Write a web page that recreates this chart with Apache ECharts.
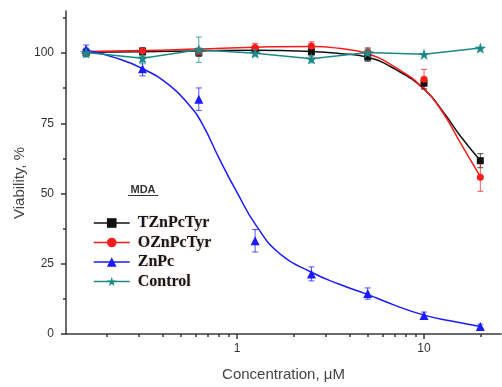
<!DOCTYPE html>
<html><head><meta charset="utf-8">
<script src="https://cdn.jsdelivr.net/npm/echarts@6/dist/echarts.min.js"></script>
<style>html,body{margin:0;padding:0;background:#fff}#c{width:502px;height:387px}</style>
</head><body><div id="c"></div>
<script>
// ---- data ----
const concentrations = [0.156, 0.3125, 0.625, 1.25, 2.5, 5, 10, 20];
const tznpcTyr    = [100.2, 100.5, 100.3, 101.0, 100.5, 98.6, 89.3, 61.7];
const tznpcTyrErr = [1.5, 1.5, 1.5, 1.0, 1.5, 1.5, 2.0, 2.5];
const oznpcTyr    = [100.3, 100.8, 100.6, 102.0, 102.5, 100.4, 90.7, 55.8];
const oznpcTyrErr = [1.0, 1.0, 1.0, 1.5, 1.5, 1.5, 3.5, 5.0];
const znpc        = [101.4, 94.4, 83.6, 33.2, 21.4, 14.4, 6.6, 2.7];
const znpcErr     = [1.5, 2.5, 4.0, 4.0, 2.5, 2.0, 1.2, 0.8];
const control     = [100.2, 98.2, 101.2, 100.0, 98.0, 100.2, 99.6, 101.8];
const controlErr  = [1.5, 2.0, 4.5, 1.0, 1.5, 1.5, 0, 0];

// fitted curves
const fitTZnX  = [0.156, 0.3125, 0.625, 1.25, 2.5, 3.5, 5, 7, 10, 12.7, 15.6, 20];
const fitTZnY  = [100.3, 100.5, 100.8, 101.0, 100.6, 99.9, 98.5, 94.3, 87.2, 79.0, 70.6, 61.8];
const fitOZnX  = [0.156, 0.3125, 0.625, 1.25, 2.5, 3.5, 5, 7, 10, 12.7, 15.6, 20];
const fitOZnY  = [100.6, 100.9, 101.5, 102.1, 102.4, 101.7, 99.8, 95.0, 87.3, 78.5, 68.2, 56.0];
const fitZnPcX = [0.156, 0.22, 0.3125, 0.438, 0.56, 0.65, 0.81, 1.0, 1.27, 1.7, 2.5, 3.5, 4.94, 7, 9.9, 14, 20];
const fitZnPcY = [101.0, 98.5, 94.5, 88.4, 81.2, 75.0, 62.0, 50.4, 38.5, 28.5, 22.0, 17.8, 14.2, 10.2, 6.8, 4.6, 2.7];

const seriesNames = ['TZnPcTyr', 'OZnPcTyr', 'ZnPc', 'Control'];
const xLabelValues = [1, 10];
const xMinorTickValues = [0.2, 0.3, 0.4, 0.5, 0.6, 0.7, 0.8, 0.9, 2, 3, 4, 5, 6, 7, 8, 9, 20];
const yLabelValues = [0, 25, 50, 75, 100];
const yMinorTickValues = [12.5, 37.5, 62.5, 87.5, 112.5];
const xRange = [0.1218, 25.8];
const yRange = [0, 115];

// ---- build ----
const L = Math.log10;
const colors = {black: '#111111', red: '#ff1a1a', blue: '#1a1aff', teal: '#1b8a86'};
const starPath = 'path://M50,0 L61,35 L98,35 L68,57 L79,91 L50,70 L21,91 L32,57 L2,35 L39,35 Z';

function pts(xs, ys) { return xs.map((x, i) => [L(x), ys[i]]); }

function fitSeries(name, xs, ys, color) {
  return {type: 'line', name: name, data: pts(xs, ys), smooth: 0.5,
    symbol: 'none', showSymbol: false, silent: true, z: 2,
    lineStyle: {color: color, width: 1.5}};
}
function errSeries(name, vals, errs, color) {
  const data = [];
  concentrations.forEach((c, i) => { if (errs[i] > 0) data.push([L(c), vals[i] - errs[i], vals[i] + errs[i]]); });
  return {type: 'custom', name: name, data: data, silent: true, z: 3,
    encode: {x: 0, y: [1, 2]},
    renderItem: function (params, api) {
      const x = api.value(0);
      const lo = api.coord([x, api.value(1)]);
      const hi = api.coord([x, api.value(2)]);
      const w = 3;
      const st = {stroke: color, lineWidth: 1, opacity: 0.75};
      return {type: 'group', children: [
        {type: 'line', shape: {x1: lo[0], y1: lo[1], x2: hi[0], y2: hi[1]}, style: st},
        {type: 'line', shape: {x1: lo[0] - w, y1: lo[1], x2: lo[0] + w, y2: lo[1]}, style: st},
        {type: 'line', shape: {x1: hi[0] - w, y1: hi[1], x2: hi[0] + w, y2: hi[1]}, style: st}
      ]};
    }};
}
function pointSeries(name, vals, color, symbol, size, showLine) {
  return {type: 'line', name: name, data: pts(concentrations, vals), symbol: symbol, symbolSize: size,
    symbolKeepAspect: true, showAllSymbol: true, z: 4,
    itemStyle: {color: color, opacity: 1},
    lineStyle: {color: color, width: 1.5, opacity: showLine ? 1 : 0}};
}

const axisLineStyle = {color: '#3a3a3a', width: 1.5};
const chart = echarts.init(document.getElementById('c'), null, {renderer: 'canvas'});
chart.setOption({
  animation: false,
  backgroundColor: '#ffffff',
  grid: {left: 66, right: 1, top: 11, bottom: 52, containLabel: false},
  xAxis: [
    {type: 'value', min: L(xRange[0]), max: L(xRange[1]), position: 'bottom',
      axisLine: {show: true, onZero: false, lineStyle: axisLineStyle},
      axisTick: {show: true, customValues: xLabelValues.map(L), length: 5, lineStyle: axisLineStyle},
      axisLabel: {show: true, customValues: xLabelValues.map(L), margin: 9, fontSize: 12, color: '#333', fontFamily: 'Arial',
        formatter: v => String(Math.round(Math.pow(10, v)))},
      splitLine: {show: false},
      name: 'Concentration, μM', nameLocation: 'middle', nameGap: 33,
      nameTextStyle: {fontSize: 15, color: '#444', fontFamily: 'Arial'}},
    {type: 'value', min: L(xRange[0]), max: L(xRange[1]), position: 'bottom',
      axisLine: {show: false, onZero: false},
      axisTick: {show: true, customValues: xMinorTickValues.map(L), length: 3, lineStyle: axisLineStyle},
      axisLabel: {show: false}, splitLine: {show: false}}
  ],
  yAxis: [
    {type: 'value', min: yRange[0], max: yRange[1], position: 'left',
      axisLine: {show: true, onZero: false, lineStyle: axisLineStyle},
      axisTick: {show: true, customValues: yLabelValues, length: 5, lineStyle: axisLineStyle},
      axisLabel: {show: true, customValues: yLabelValues, margin: 12, fontSize: 12, color: '#333', fontFamily: 'Arial'},
      splitLine: {show: false}},
    {type: 'value', min: yRange[0], max: yRange[1], position: 'left',
      axisLine: {show: false, onZero: false},
      axisTick: {show: true, customValues: yMinorTickValues, length: 3, lineStyle: axisLineStyle},
      axisLabel: {show: false}, splitLine: {show: false}}
  ],
  legend: {
    orient: 'vertical', left: 93, top: 215, padding: 0, itemWidth: 36, itemHeight: 12, itemGap: 3.5,
    textStyle: {fontFamily: 'Liberation Serif, Times New Roman, serif', fontWeight: 'bold', fontSize: 16, lineHeight: 16,
      color: '#15152a', padding: [0, 0, 0, 3], textShadowColor: 'rgba(200,150,40,0.55)', textShadowBlur: 2},
    data: seriesNames.map(n => ({name: n, lineStyle: {opacity: 1, width: 1.5}}))
  },
  graphic: [
    {type: 'text', x: 20, y: 183, rotation: Math.PI / 2,
      style: {text: 'Viability, %', font: '15px Arial', fill: '#444', align: 'center', verticalAlign: 'middle'}},
    {type: 'text', x: 143, y: 190,
      style: {text: 'MDA', font: 'bold 11px Arial', fill: '#333', align: 'center', verticalAlign: 'middle'}},
    {type: 'line', shape: {x1: 128, y1: 195.5, x2: 158, y2: 195.5}, style: {stroke: '#333', lineWidth: 1}}
  ],
  series: [
    fitSeries('fitTZn', fitTZnX, fitTZnY, colors.black),
    fitSeries('fitOZn', fitOZnX, fitOZnY, colors.red),
    fitSeries('fitZnPc', fitZnPcX, fitZnPcY, colors.blue),
    errSeries('errTZn', tznpcTyr, tznpcTyrErr, colors.black),
    errSeries('errOZn', oznpcTyr, oznpcTyrErr, colors.red),
    errSeries('errZnPc', znpc, znpcErr, colors.blue),
    errSeries('errControl', control, controlErr, colors.teal),
    pointSeries('TZnPcTyr', tznpcTyr, colors.black, 'rect', 7, false),
    pointSeries('OZnPcTyr', oznpcTyr, colors.red, 'circle', 7, false),
    pointSeries('ZnPc', znpc, colors.blue, 'triangle', 9, false),
    pointSeries('Control', control, colors.teal, starPath, 12, true)
  ]
});
</script>
</body></html>
